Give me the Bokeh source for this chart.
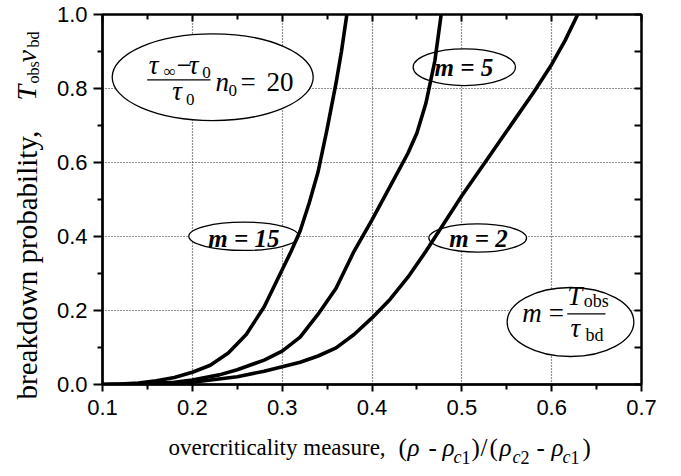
import math
from bokeh.plotting import figure
from bokeh.models import Label, LinearAxis, FixedTicker, Range1d, PrintfTickFormatter
from bokeh.layouts import column, row
from bokeh.embed import file_html
from bokeh.resources import INLINE

# ---------------- data ----------------
x_ticks = [0.1, 0.2, 0.3, 0.4, 0.5, 0.6, 0.7]
x_minor = [0.15, 0.25, 0.35, 0.45, 0.55, 0.65]
y_ticks = [0.0, 0.2, 0.4, 0.6, 0.8, 1.0]
y_minor = [0.1, 0.3, 0.5, 0.7, 0.9]

x_m15 = [0.10, 0.12, 0.14, 0.16, 0.18, 0.20, 0.22, 0.24, 0.26, 0.28, 0.30,
         0.31, 0.32, 0.33, 0.34, 0.35, 0.36, 0.366, 0.372]
p_m15 = [0.0, 0.001, 0.004, 0.010, 0.019, 0.033, 0.052, 0.085, 0.135, 0.21, 0.31,
         0.36, 0.415, 0.49, 0.575, 0.69, 0.815, 0.90, 1.0]

x_m5 = [0.10, 0.15, 0.18, 0.20, 0.23, 0.25, 0.28, 0.30, 0.32, 0.34, 0.36, 0.38,
        0.40, 0.42, 0.44, 0.45, 0.46, 0.47, 0.477]
p_m5 = [0.0, 0.002, 0.006, 0.012, 0.026, 0.040, 0.066, 0.09, 0.128, 0.19, 0.26, 0.36,
        0.445, 0.535, 0.625, 0.68, 0.76, 0.875, 1.0]

x_m2 = [0.10, 0.15, 0.20, 0.25, 0.28, 0.30, 0.32, 0.34, 0.36, 0.38, 0.40, 0.42,
        0.44, 0.46, 0.48, 0.50, 0.53, 0.56, 0.58, 0.60, 0.615, 0.629]
p_m2 = [0.0, 0.001, 0.006, 0.021, 0.036, 0.048, 0.060, 0.077, 0.099, 0.135, 0.18, 0.23,
        0.29, 0.36, 0.435, 0.51, 0.615, 0.72, 0.79, 0.865, 0.93, 1.0]

# ---------------- layout (page pixels) ----------------
PAGE_W, PAGE_H = 681, 476
YT_W = 50            # strip on the left holding the y title
MAIN_H = 430         # main figure height; x-title strip below
MAIN_W = PAGE_W - YT_W
BL, BR, BT, BB = 52, 40, 14, 46
x_lo, x_hi = 0.1, 0.7
y_lo, y_hi = 0.0, 1.0
FL, FR = YT_W + BL, YT_W + MAIN_W - BR
FT, FB = BT, MAIN_H - BB

SERIF = "Liberation Serif"
SANS = "Liberation Sans"
MID = 0.34   # centre of the text box above the baseline, in em


def X(px):
    return x_lo + (px - FL) / (FR - FL) * (x_hi - x_lo)


def Y(py):
    return y_hi - (py - FT) / (FB - FT) * (y_hi - y_lo)


def DX(w):
    return w / (FR - FL) * (x_hi - x_lo)


def DY(h):
    return h / (FB - FT) * (y_hi - y_lo)


p = figure(width=MAIN_W, height=MAIN_H, x_range=Range1d(x_lo, x_hi), y_range=Range1d(y_lo, y_hi),
           output_backend="svg", toolbar_location=None,
           min_border_left=BL, min_border_right=BR, min_border_top=BT, min_border_bottom=BB)
p.frame_align = False
p.outline_line_color = "black"
p.outline_line_width = 2
p.background_fill_color = "white"
p.border_fill_color = "white"

for g in (p.xgrid, p.ygrid):
    g.grid_line_color = "#222222"
    g.grid_line_dash = "1 2"
    g.grid_line_width = 1.2
p.xgrid.ticker = FixedTicker(ticks=x_ticks)
p.ygrid.ticker = FixedTicker(ticks=y_ticks)


def style_axis(ax, out_major, out_minor, in_major=0, in_minor=0, labels=True):
    ax.axis_line_color = "black"
    ax.axis_line_width = 2.5
    ax.major_tick_line_color = "black"
    ax.minor_tick_line_color = "black"
    ax.major_tick_line_width = 2
    ax.minor_tick_line_width = 2
    ax.major_tick_out = out_major
    ax.minor_tick_out = out_minor
    ax.major_tick_in = in_major
    ax.minor_tick_in = in_minor
    ax.formatter = PrintfTickFormatter(format="%.1f")
    if labels:
        ax.major_label_text_font = SANS
        ax.major_label_text_font_size = "22px"
        ax.major_label_text_color = "black"
    else:
        ax.major_label_text_font_size = "0px"
        ax.major_label_text_alpha = 0
        ax.major_label_standoff = 0


xa = p.xaxis[0]
xa.ticker = FixedTicker(ticks=x_ticks, minor_ticks=x_minor)
style_axis(xa, 7, 5)
xa.major_label_standoff = 8
ya = p.yaxis[0]
ya.ticker = FixedTicker(ticks=y_ticks, minor_ticks=y_minor)
style_axis(ya, 9, 5)
ya.major_label_standoff = 6

top = LinearAxis(ticker=FixedTicker(ticks=x_ticks, minor_ticks=x_minor))
style_axis(top, 0, 0, 7, 5, labels=False)
top.axis_line_width = 2
p.add_layout(top, "above")
right = LinearAxis(ticker=FixedTicker(ticks=y_ticks, minor_ticks=y_minor))
style_axis(right, 0, 0, 7, 7, labels=False)
right.axis_line_width = 2
p.add_layout(right, "right")

# ---------------- annotation ellipses ----------------
ell = [  # centre x px, centre y px, width px, height px
    (212.2, 76.7, 201, 86.7),
    (463.8, 66.7, 102.3, 36.7),
    (243.3, 235.8, 110, 28.3),
    (477.2, 237.5, 97.7, 28.3),
    (570.0, 321.5, 126.7, 69),
]
p.ellipse(x=[X(e[0]) for e in ell], y=[Y(e[1]) for e in ell],
          width=[DX(e[2]) for e in ell], height=[DY(e[3]) for e in ell],
          fill_color="white", line_color="black", line_width=1.3)

# ---------------- curves ----------------
for xs, ps in ((x_m15, p_m15), (x_m5, p_m5), (x_m2, p_m2)):
    p.line(xs, ps, line_color="black", line_width=3.6, line_join="round", line_cap="round")

# fraction bars
bars = [(146.7, 210.0, 79.3), (566.7, 605.0, 313.3)]
p.segment(x0=[X(b[0]) for b in bars], x1=[X(b[1]) for b in bars],
          y0=[Y(b[2]) for b in bars], y1=[Y(b[2]) for b in bars],
          line_color="black", line_width=1.3)


def txt(s, px, base, size, style="normal", font=SERIF, align="left"):
    """text in the main figure; px = left (or centre) x, base = baseline y (page px)"""
    p.add_layout(Label(x=X(px), y=Y(base - MID * size), text=s, text_font=font,
                       text_font_size=f"{size}px", text_font_style=style,
                       text_color="black", text_align=align, text_baseline="middle"))


# top-left formula
txt("τ", 148.3, 74, 27, "italic")
txt("∞", 163.3, 77, 17)
txt("−", 176, 74, 27)
txt("τ", 188.3, 74, 27, "italic")
txt("0", 201.7, 77.5, 17)
txt("τ", 171.7, 100, 27, "italic")
txt("0", 185.5, 105, 17)
txt("n", 215, 90.7, 27, "italic")
txt("0", 228, 95.5, 17)
txt("=", 240, 90.7, 27)
txt("20", 266, 90.7, 27)

# m labels
txt("m = 5", 463.3, 75, 25, "bold italic", align="center")
txt("m = 15", 243.3, 246.5, 25, "bold italic", align="center")
txt("m = 2", 478, 246.5, 25, "bold italic", align="center")

# lower-right formula
txt("m", 521.7, 321.7, 27, "italic")
txt("=", 548.3, 321.7, 27)
txt("T", 566.7, 305, 27, "italic")
txt("obs", 583.3, 307, 18)
txt("τ", 570, 336.7, 27, "italic")
txt("bd", 585, 340.5, 18)


# ---------------- title strips ----------------
def strip(w, h):
    f = figure(width=w, height=h, x_range=Range1d(0, w), y_range=Range1d(0, h),
               output_backend="svg", toolbar_location=None, min_border=0,
               x_axis_location=None, y_axis_location=None)
    f.frame_align = False
    f.xgrid.visible = False
    f.ygrid.visible = False
    f.outline_line_color = None
    f.background_fill_color = "white"
    f.border_fill_color = "white"
    return f


# y title strip: page x 0..YT_W, page y 0..MAIN_H
yf = strip(YT_W, MAIN_H)


def ytxt(s, base_x, start_y, size, style="normal"):
    cx = base_x - MID * size
    yf.add_layout(Label(x=cx, y=MAIN_H - start_y, text=s, text_font=SERIF,
                        text_font_size=f"{size}px", text_font_style=style, text_color="black",
                        text_align="left", text_baseline="middle", angle=math.pi / 2))


yb = 36
ytxt("breakdown probability,", yb, 399, 29)
ytxt("T", yb, 100, 28, "italic")
ytxt("obs", yb + 2.5, 83, 16)
ytxt("ν", yb, 62, 28, "italic")
ytxt("bd", yb + 2.5, 47, 16)

# x title strip: page x 0..PAGE_W, page y MAIN_H..PAGE_H
XT_H = PAGE_H - MAIN_H
xf = strip(PAGE_W, XT_H)


def xtxt(s, px, base, size, style="normal"):
    cy = base - MID * size
    xf.add_layout(Label(x=px, y=XT_H - (cy - MAIN_H), text=s, text_font=SERIF,
                        text_font_size=f"{size}px", text_font_style=style, text_color="black",
                        text_align="left", text_baseline="middle"))


xb = 455
xtxt("overcriticality measure,", 168, xb, 23)
xtxt("(", 398, xb, 25)
xtxt("ρ", 407, xb, 25, "italic")
xtxt("-", 428, xb, 25)
xtxt("ρ", 442, xb, 25, "italic")
xtxt("c", 453, xb + 8, 18, "italic")
xtxt("1", 461, xb + 8, 18)
xtxt(")", 471, xb, 25)
xtxt("/", 480, xb, 25)
xtxt("(", 489, xb, 25)
xtxt("ρ", 499, xb, 25, "italic")
xtxt("c", 512, xb + 8, 18, "italic")
xtxt("2", 520, xb + 8, 18)
xtxt("-", 536, xb, 25)
xtxt("ρ", 551, xb, 25, "italic")
xtxt("c", 562, xb + 8, 18, "italic")
xtxt("1", 570, xb + 8, 18)
xtxt(")", 582, xb, 25)

layout = column(row(yf, p), xf)
open("out.html", "w").write(file_html(layout, INLINE))
